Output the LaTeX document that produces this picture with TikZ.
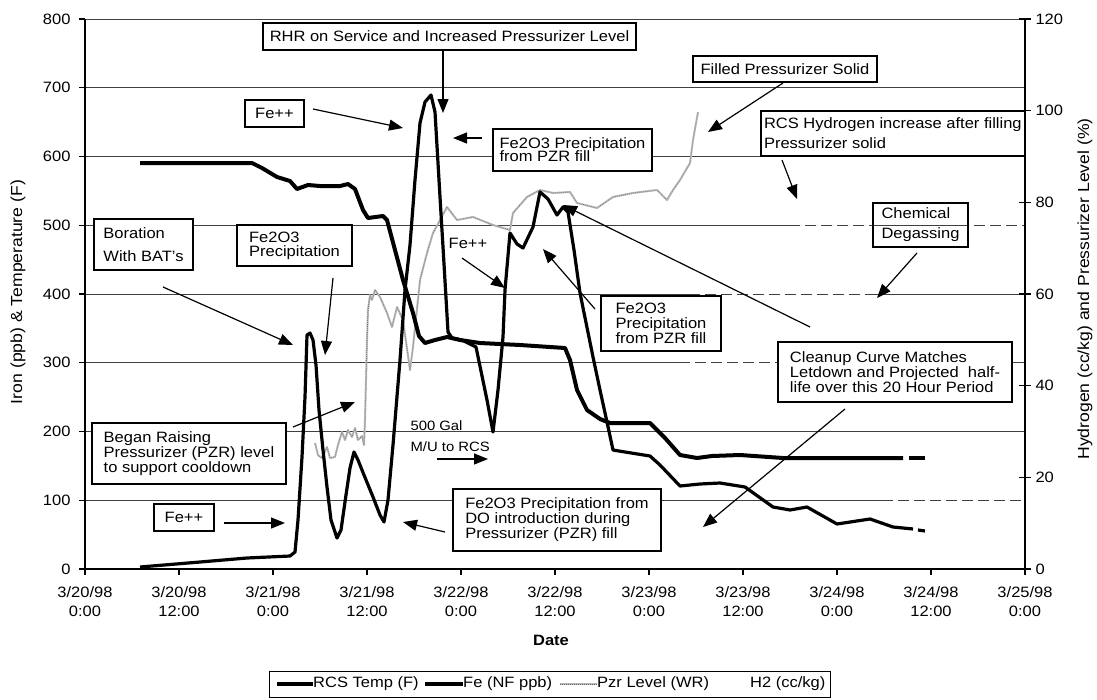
\documentclass[tikz,border=0pt]{standalone}
\usepackage{fontspec}
\setmainfont{Liberation Sans}[FakeStretch=1.1]
\usetikzlibrary{arrows.meta, positioning}
\newcommand{\notefont}{\fontsize{15}{15}\selectfont}
\tikzset{notebox/.style={draw, line width=2pt, fill=white, align=left, anchor=north west, inner xsep=4pt, inner ysep=2pt},
         notearrow/.style={line width=1.2pt, -{Triangle[length=14pt,width=11pt]}},
         gridline/.style={line width=0.8pt, black!75},
         gridgap/.style={white, line width=1.6pt, dash pattern=on 5pt off 11pt},
         axisline/.style={line width=1.3pt},
         ticklabel/.style={align=center, font=\fontsize{15}{19}\selectfont},
         rcs/.style={line width=4pt, line join=round},
         fe/.style={line width=3.2pt, line join=round},
         pzr/.style={gray!55, line width=2pt, line join=round,
                     postaction={draw, black!60, line width=0.6pt, dash pattern=on 0.6pt off 1.4pt}},
        }

\begin{document}
\begin{tikzpicture}[x=1pt, y=-1pt, font=\notefont]
        \useasboundingbox (0,0) rectangle (1097,699);

        % grid and axes
        \foreach \v in {100,200,...,800}
            \draw[gridline] (85,{569-0.6875*\v}) -- (1025,{569-0.6875*\v});
        \draw[gridgap] (800,225) -- (872,225);
        \draw[gridgap] (969,225) -- (1025,225);
        \draw[gridgap] (700,294) -- (873,294);
        \draw[gridgap] (690,363) -- (777,363);
        \draw[gridgap] (893,500) -- (1025,500);
        \draw[axisline] (85,19) -- (85,569) -- (1025,569) -- (1025,19);

        \foreach \v in {0,100,...,800}{
            \draw[axisline] (79,{569-0.6875*\v}) -- (85,{569-0.6875*\v});
            \node[anchor=east] (yl\v) at (74,{569-0.6875*\v}) {\v};
        }
        \foreach \v in {0,20,...,120}{
            \draw[axisline] (1019,{569-4.5833*\v}) -- (1031,{569-4.5833*\v});
            \node[anchor=west] (yr\v) at (1032,{569-4.5833*\v}) {\v};
        }
        \foreach \k/\dy/\tm in {0/20/0:00,1/20/12:00,2/21/0:00,3/21/12:00,4/22/0:00,5/22/12:00,
                                6/23/0:00,7/23/12:00,8/24/0:00,9/24/12:00,10/25/0:00}{
            \draw[axisline] ({85+94*\k},569) -- ({85+94*\k},575);
            \node[ticklabel] (xl\k) at ({85+94*\k},602) {3/\dy/98\\\tm};
        }
        \node[rotate=90, font=\fontsize{16}{16}\selectfont] (ylabel) at (18,292) {Iron (ppb) \& Temperature (F)};
        \node[rotate=90, font=\fontsize{16}{16}\selectfont] (yrlabel) at (1085,289) {Hydrogen (cc/kg) and Pressurizer Level (\%)};
        \node[font=\notefont\bfseries] (xlabel) at (551,640) {Date};

        % data
        \draw[pzr] (315,443) -- (318,455) -- (322,458) -- (327,447) -- (330,458) -- (335,457) -- (338,445)
            -- (342,432) -- (345,440) -- (348,430) -- (352,437) -- (355,428) -- (358,440) -- (362,436)
            -- (364,445) -- (365,420) -- (366,380) -- (367,340) -- (368,310) -- (370,295) -- (372,300)
            -- (375,290) -- (380,297) -- (387,313) -- (392,327) -- (397,307) -- (403,320) -- (410,370)
            -- (413,347) -- (420,280) -- (427,253) -- (433,233) -- (440,220) -- (447,207) -- (457,220)
            -- (473,217) -- (493,225) -- (510,230) -- (513,213) -- (527,197) -- (540,190) -- (553,193)
            -- (570,192) -- (577,203) -- (597,208) -- (613,197) -- (633,193) -- (657,190) -- (667,200)
            -- (673,190) -- (680,180) -- (690,163) -- (693,140) -- (698,112);
        \draw[fe] (140,567) -- (200,562) -- (247,558) -- (290,556) -- (295,552) -- (298,520) -- (302,457)
            -- (305,397) -- (307,335) -- (310,333) -- (313,340) -- (316,365) -- (319,410) -- (323,450)
            -- (327,487) -- (331,520) -- (337,538) -- (341,530) -- (346,495) -- (350,468) -- (354,452)
            -- (358,460) -- (364,475) -- (373,497) -- (380,515) -- (384,522) -- (388,500) -- (393,445)
            -- (400,360) -- (405,290) -- (410,245) -- (415,180) -- (420,123) -- (425,102) -- (431,95)
            -- (435,112) -- (440,197) -- (443,247) -- (448,332) -- (452,338) -- (462,340) -- (476,347)
            -- (487,400) -- (493,432) -- (498,390) -- (503,337) -- (505,290) -- (510,233) -- (517,244)
            -- (523,248) -- (533,227) -- (540,192) -- (548,199) -- (557,215) -- (563,207) -- (568,212)
            -- (574,250) -- (580,293) -- (593,357) -- (600,390) -- (607,422) -- (613,450) -- (625,452)
            -- (650,456) -- (660,465) -- (680,486) -- (700,484) -- (720,483) -- (745,487) -- (773,507)
            -- (790,510) -- (807,507) -- (837,524) -- (870,519) -- (893,527) -- (913,529);
        \draw[fe] (918,530) -- (925,531);
        \draw[rcs] (140,163) -- (252,163) -- (262,168) -- (277,177) -- (290,181) -- (297,189) -- (308,185)
            -- (320,186) -- (340,186) -- (348,184) -- (355,189) -- (363,210) -- (368,218) -- (383,216)
            -- (387,220) -- (395,250) -- (403,280) -- (413,313) -- (419,336) -- (425,343) -- (435,340)
            -- (447,337) -- (460,340) -- (480,343) -- (520,345) -- (565,348) -- (570,360) -- (577,390)
            -- (587,410) -- (600,419) -- (610,423) -- (650,423) -- (665,438) -- (680,455) -- (697,458)
            -- (712,456) -- (740,455) -- (783,458) -- (903,458);
        \draw[rcs] (909,458) -- (925,458);

        % notes
        \node[notebox, minimum width=373pt, minimum height=27pt] (rhr) at (262,22)
            {RHR on Service and Increased Pressurizer Level};
        \node[notebox, minimum width=184pt, minimum height=26pt] (filled) at (692,55)
            {Filled Pressurizer Solid};
        \node[notebox, minimum width=59pt, minimum height=27pt] (feTop) at (244,99) {Fe++};
        \node[notebox, minimum width=159pt, minimum height=42pt] (pzrFill) at (492,128)
            {Fe2O3 Precipitation\\[-2pt]from PZR fill};
        \node[notebox, inner xsep=3pt, minimum width=263pt, minimum height=45pt] (hydro) at (760,110)
            {RCS Hydrogen increase after filling\\[5pt]Pressurizer solid};
        \node[notebox, minimum width=99pt, minimum height=51pt] (borat) at (93,218)
            {Boration\\[8pt]With BAT's};
        \node[notebox, minimum width=115pt, minimum height=41pt] (precip) at (236,224)
            {Fe2O3\\[-1pt]Precipitation};
        \node[notebox, fill=none, minimum width=95pt, minimum height=44pt] (degas) at (872,202)
            {Chemical\\[5pt]Degassing};
        \node (feMid) at (468,243) {Fe++};
        \node[notebox, minimum width=120pt, minimum height=55pt] (pzrFill2) at (600,295)
            {Fe2O3\\Precipitation\\from PZR fill};
        \node[notebox, minimum width=234pt, minimum height=60pt] (clean) at (777,341)
            {Cleanup Curve Matches\\Letdown and Projected\ \ half-\\life over this 20 Hour Period};
        \node[notebox, minimum width=194pt, minimum height=61pt] (raise) at (91,422)
            {Began Raising\\Pressurizer (PZR) level\\to support cooldown};
        \node[anchor=west, font=\fontsize{13.5}{13.5}\selectfont] (gal) at (407,426) {500 Gal};
        \node[anchor=west, font=\fontsize{13.5}{13.5}\selectfont] (makeup) at (407,447) {M/U to RCS};
        \node[notebox, minimum width=60pt, minimum height=27pt] (feLow) at (153,503) {Fe++};
        \node[notebox, minimum width=208pt, minimum height=62pt] (doFill) at (452,488)
            {Fe2O3 Precipitation from\\DO introduction during\\Pressurizer (PZR) fill};

        % arrows
        \coordinate (rhrTip) at (443,113);
        \coordinate (feTopTail) at (313,109);     \coordinate (feTopTip) at (403,128);
        \coordinate (pzrFillTail) at (482,138);   \coordinate (pzrFillTip) at (453,138);
        \coordinate (filledTail) at (783,84);     \coordinate (filledTip) at (708,132);
        \coordinate (hydroTail) at (782,160);     \coordinate (hydroTip) at (797,199);
        \coordinate (degasTail) at (917,253);     \coordinate (degasTip) at (877,298);
        \coordinate (boratTail) at (163,287);     \coordinate (boratTip) at (293,345);
        \coordinate (precipTail) at (333,278);    \coordinate (precipTip) at (325,355);
        \coordinate (feMidTail) at (462,258);     \coordinate (feMidTip) at (505,288);
        \coordinate (pzrFill2Tail) at (595,309);  \coordinate (pzrFill2Tip) at (543,249);
        \coordinate (cleanATail) at (810,327);    \coordinate (cleanATip) at (563,205);
        \coordinate (cleanBTail) at (845,409);    \coordinate (cleanBTip) at (703,527);
        \coordinate (raiseTail) at (293,427);     \coordinate (raiseTip) at (355,402);
        \coordinate (feLowTail) at (224,523);     \coordinate (feLowTip) at (285,523);
        \coordinate (makeupTail) at (437,459);    \coordinate (makeupTip) at (488,459);
        \coordinate (doFillTail) at (445,532);    \coordinate (doFillTip) at (403,522);

        \draw[notearrow] (rhr.south -| rhrTip) -- (rhrTip);
        \draw[notearrow] (feTopTail) -- (feTopTip);
        \draw[notearrow] (pzrFillTail) -- (pzrFillTip);
        \draw[notearrow] (filled.south -| filledTail) -- (filledTip);
        \draw[notearrow] (hydroTail) -- (hydroTip);
        \draw[notearrow] (degasTail) -- (degasTip);
        \draw[notearrow] (boratTail) -- (boratTip);
        \draw[notearrow] (precipTail) -- (precipTip);
        \draw[notearrow] (feMidTail) -- (feMidTip);
        \draw[notearrow] (pzrFill2Tail) -- (pzrFill2Tip);
        \draw[notearrow] (cleanATail) -- (cleanATip);
        \draw[notearrow] (cleanBTail) -- (cleanBTip);
        \draw[notearrow] (raiseTail) -- (raiseTip);
        \draw[notearrow] (feLowTail) -- (feLowTip);
        \draw[notearrow] (makeupTail) -- (makeupTip);
        \draw[notearrow] (doFillTail) -- (doFillTip);

        % legend
        \node[draw, line width=0.8pt, anchor=north west, inner sep=0pt, minimum width=561pt, minimum height=26pt] (legend) at (269,671) {};
        \node[anchor=west, inner sep=0pt] (lgRcs) at (313,684) {RCS Temp (F)};
        \node[anchor=west, inner sep=0pt] (lgFe) at (463,684) {Fe (NF ppb)};
        \node[anchor=west, inner sep=0pt] (lgPzr) at (597,684) {Pzr Level (WR)};
        \node[anchor=west, inner sep=0pt] (lgH2) at (750,684) {H2 (cc/kg)};
        \coordinate (lgRcsStart) at (277,684);
        \coordinate (lgFeStart) at (425,684);
        \coordinate (lgPzrStart) at (560,684);
        \draw[rcs] (lgRcsStart) -- (lgRcs.west);
        \draw[fe] (lgFeStart) -- (lgFe.west);
        \draw[pzr] (lgPzrStart) -- (lgPzr.west);
    \end{tikzpicture}
\end{document}
